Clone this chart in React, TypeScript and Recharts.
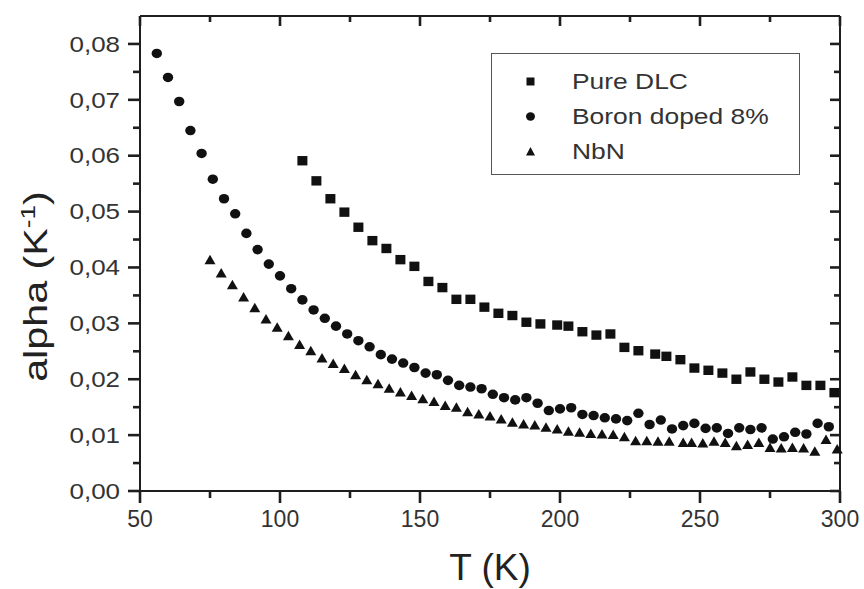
import React from "react";
import { ScatterChart, Scatter, XAxis, YAxis, Legend, Label } from "recharts";

const seriesNames = ["Pure DLC", "Boron doped 8%", "NbN"];

// Pure DLC (squares)
const dlcT = [108, 113, 118, 123, 128, 133, 138, 143, 148, 153, 158, 163, 168, 173, 178, 183, 188, 193, 199, 203, 208, 213, 218, 223, 228, 234, 238, 243, 248, 253, 258, 263, 268, 273, 278, 283, 288, 293, 298];
const dlcAlpha = [0.0591, 0.0555, 0.0523, 0.0499, 0.0472, 0.0448, 0.0434, 0.0414, 0.0402, 0.0375, 0.0364, 0.0343, 0.0343, 0.0329, 0.0318, 0.0314, 0.0302, 0.0299, 0.0297, 0.0295, 0.0285, 0.0279, 0.0281, 0.0257, 0.0251, 0.0245, 0.0241, 0.0235, 0.022, 0.0216, 0.0211, 0.02, 0.0213, 0.02, 0.0195, 0.0204, 0.0189, 0.0189, 0.0176];

// Boron doped 8% (circles)
const boronT = [56, 60, 64, 68, 72, 76, 80, 84, 88, 92, 96, 100, 104, 108, 112, 116, 120, 124, 128, 132, 136, 140, 144, 148, 152, 156, 160, 164, 168, 172, 176, 180, 184, 188, 192, 196, 200, 204, 208, 212, 216, 220, 224, 228, 232, 236, 240, 244, 248, 252, 256, 260, 264, 268, 272, 276, 280, 284, 288, 292, 296];
const boronAlpha = [0.0783, 0.074, 0.0697, 0.0645, 0.0604, 0.0558, 0.0523, 0.0496, 0.0461, 0.0432, 0.0406, 0.0385, 0.0362, 0.0342, 0.0324, 0.0309, 0.0295, 0.0281, 0.0269, 0.0258, 0.0244, 0.0236, 0.0229, 0.0221, 0.0211, 0.0208, 0.0198, 0.0189, 0.0186, 0.0183, 0.0173, 0.0167, 0.0163, 0.0167, 0.0157, 0.0144, 0.0147, 0.0149, 0.0137, 0.0135, 0.0131, 0.0129, 0.0126, 0.0139, 0.0119, 0.0127, 0.0111, 0.0117, 0.0121, 0.0112, 0.0113, 0.0103, 0.0113, 0.011, 0.0113, 0.0093, 0.0097, 0.0105, 0.0102, 0.0121, 0.0115];

// NbN (triangles)
const nbnT = [75, 79, 83, 87, 91, 95, 99, 103, 107, 111, 115, 119, 123, 127, 131, 135, 139, 143, 147, 151, 155, 159, 163, 167, 171, 175, 179, 183, 187, 191, 195, 199, 203, 207, 211, 215, 219, 223, 227, 231, 235, 239, 244, 247, 251, 255, 259, 263, 267, 271, 275, 279, 283, 287, 291, 295, 299];
const nbnAlpha = [0.0414, 0.039, 0.0369, 0.0347, 0.0328, 0.0308, 0.0293, 0.0278, 0.0262, 0.0251, 0.0238, 0.0228, 0.0219, 0.0208, 0.0199, 0.0192, 0.0184, 0.0177, 0.0171, 0.0165, 0.016, 0.0153, 0.015, 0.0142, 0.0138, 0.0134, 0.0129, 0.0123, 0.012, 0.0118, 0.0114, 0.0111, 0.0107, 0.0105, 0.0103, 0.0102, 0.0101, 0.0097, 0.009, 0.009, 0.0089, 0.0089, 0.0087, 0.0087, 0.0086, 0.0089, 0.0087, 0.0081, 0.0083, 0.0087, 0.0078, 0.0077, 0.0078, 0.0077, 0.0071, 0.0092, 0.0075];

const xTicks = [50, 75, 100, 125, 150, 175, 200, 225, 250, 275, 300];
const yTicks = [0, 0.005, 0.01, 0.015, 0.02, 0.025, 0.03, 0.035, 0.04, 0.045, 0.05, 0.055, 0.06, 0.065, 0.07, 0.075, 0.08];

const zip = (ts: number[], as: number[]) => ts.map((t, i) => ({ t, a: as[i] }));

const INK = "#111";
const AXIS = "#1e1e1e";
const FONT = "'Liberation Sans', Arial, sans-serif";
const W = 864;
const H = 589;
const MARGIN = { top: 15, right: 23, bottom: 0, left: 0 };
const PLOT_TOP = MARGIN.top + 1; // top axis box is 1px tall
const PLOT_RIGHT = W - MARGIN.right - 1; // right axis box is 1px wide
const HT = 1.3; // half tick thickness

const isMajorX = (v: number) => v % 50 === 0;
const isMajorY = (v: number) => Math.round(v * 1000) % 10 === 0;
const fmtY = (v: number) => v.toFixed(2).replace(".", ",");

const Square = ({ cx, cy }: any) => <rect x={cx - 5} y={cy - 4.7} width={10} height={9.4} fill={INK} />;
const Dot = ({ cx, cy }: any) => <ellipse cx={cx} cy={cy} rx={5.2} ry={4.8} fill={INK} />;
const Tri = ({ cx, cy }: any) => (
  <polygon points={`${cx},${cy - 5} ${cx + 5.5},${cy + 4.5} ${cx - 5.5},${cy + 4.5}`} fill={INK} />
);

const hTick = (x0: number, x1: number, y: number) => `M${x0},${y - HT}H${x1}V${y + HT}H${x0}Z`;
const vTick = (x: number, y0: number, y1: number) => `M${x - HT},${y0}V${y1}H${x + HT}V${y0}Z`;

// left axis: outward tick + label, plus the mirrored inward tick on the right frame
const LeftTick = ({ x, y, payload }: any) => {
  const major = isMajorY(payload.value);
  return (
    <g>
      <path d={hTick(x - (major ? 12 : 7), x, y)} fill={AXIS} />
      <path d={hTick(PLOT_RIGHT - (major ? 10 : 6), PLOT_RIGHT, y)} fill={AXIS} />
      {major && (
        <text transform={`translate(${x - 20},${y}) scale(1.18,1)`} textAnchor="end" dominantBaseline="central"
          fontSize={22} fontFamily={FONT} fill="#333">{fmtY(payload.value)}</text>
      )}
    </g>
  );
};

// bottom axis: outward tick + label, plus the mirrored inward tick on the top frame
const BottomTick = ({ x, y, payload }: any) => {
  const major = isMajorX(payload.value);
  return (
    <g>
      <path d={vTick(x, y, y + (major ? 12 : 7))} fill={AXIS} />
      <path d={vTick(x, PLOT_TOP, PLOT_TOP + (major ? 10 : 6))} fill={AXIS} />
      {major && (
        <text x={x} y={y + 36} textAnchor="middle" fontSize={23} fontFamily={FONT} fill="#333">{payload.value}</text>
      )}
    </g>
  );
};

const XTitle = ({ viewBox }: any) => {
  const vb = viewBox || { x: 140, y: 491, width: 700, height: 98 };
  return (
    <text x={vb.x + vb.width / 2} y={vb.y + 89} textAnchor="middle" fontSize={37} fontFamily={FONT} fill="#222">
      T (K)
    </text>
  );
};

const YTitle = ({ viewBox }: any) => {
  const vb = viewBox || { x: 0, y: 16, width: 140, height: 475 };
  const cx = vb.x + 47;
  const cy = vb.y + vb.height / 2 + 33;
  return (
    <text transform={`translate(${cx},${cy}) rotate(-90) scale(1.25,1)`} textAnchor="middle" fontSize={33}
      fontFamily={FONT} fill="#222">
      alpha (K<tspan dy={-12} fontSize={21}>-1</tspan><tspan dy={12}>)</tspan>
    </text>
  );
};

const markerIcons = [
  <rect key="s" x={0.5} y={0.5} width={8} height={8} fill={INK} />,
  <ellipse key="c" cx={4.5} cy={4.5} rx={4.5} ry={4.2} fill={INK} />,
  <polygon key="t" points="4.5,0 9,8.5 0,8.5" fill={INK} />,
];

const LegendBox = () => (
  <div style={{ position: "relative", width: 309, height: 122, border: "1px solid #555", boxSizing: "border-box", background: "#fff" }}>
    {seriesNames.map((name, i) => (
      <div key={name} style={{ position: "absolute", left: 0, top: 28 + i * 35 - 13, height: 26, width: "100%" }}>
        <svg width={9} height={9} style={{ position: "absolute", left: 34, top: 8 }}>{markerIcons[i]}</svg>
        <span style={{
          position: "absolute", left: 80, top: 0, lineHeight: "26px", fontSize: 22, fontFamily: FONT, color: "#333",
          display: "inline-block", transform: "scaleX(1.2)", transformOrigin: "left center", whiteSpace: "nowrap",
        }}>{name}</span>
      </div>
    ))}
  </div>
);

const lineStyle = { stroke: AXIS, strokeWidth: 2 };

export default function App() {
  return (
    <div style={{ position: "absolute", left: 0, top: 0, background: "#fff" }}>
      <ScatterChart width={W} height={H} margin={MARGIN}>
        <XAxis xAxisId="b" type="number" dataKey="t" domain={[50, 300]} ticks={xTicks} interval={0}
          height={98} tickSize={0} tickMargin={0} tickLine={false} tick={<BottomTick />} axisLine={lineStyle}>
          <Label content={XTitle} />
        </XAxis>
        <XAxis xAxisId="top" orientation="top" type="number" dataKey="t" domain={[50, 300]} ticks={xTicks}
          interval={0} height={1} tickSize={0} tickMargin={0} tickLine={false} tick={false} axisLine={lineStyle} />
        <YAxis yAxisId="l" type="number" dataKey="a" domain={[0, 0.085]} ticks={yTicks} interval={0}
          width={140} tickSize={0} tickMargin={0} tickLine={false} tick={<LeftTick />} axisLine={lineStyle}>
          <Label content={YTitle} />
        </YAxis>
        <YAxis yAxisId="right" orientation="right" type="number" dataKey="a" domain={[0, 0.085]} ticks={yTicks}
          interval={0} width={1} tickSize={0} tickMargin={0} tickLine={false} tick={false} axisLine={lineStyle} />
        <Legend layout="horizontal" verticalAlign="middle" align="center" content={() => <LegendBox />}
          wrapperStyle={{ left: 491, top: 53, width: 309, height: 122 }} />
        <Scatter name={seriesNames[0]} xAxisId="b" yAxisId="l" data={zip(dlcT, dlcAlpha)} shape={Square} fill={INK} isAnimationActive={false} />
        <Scatter name={seriesNames[1]} xAxisId="b" yAxisId="l" data={zip(boronT, boronAlpha)} shape={Dot} fill={INK} isAnimationActive={false} />
        <Scatter name={seriesNames[2]} xAxisId="b" yAxisId="l" data={zip(nbnT, nbnAlpha)} shape={Tri} fill={INK} isAnimationActive={false} />
      </ScatterChart>
    </div>
  );
}
